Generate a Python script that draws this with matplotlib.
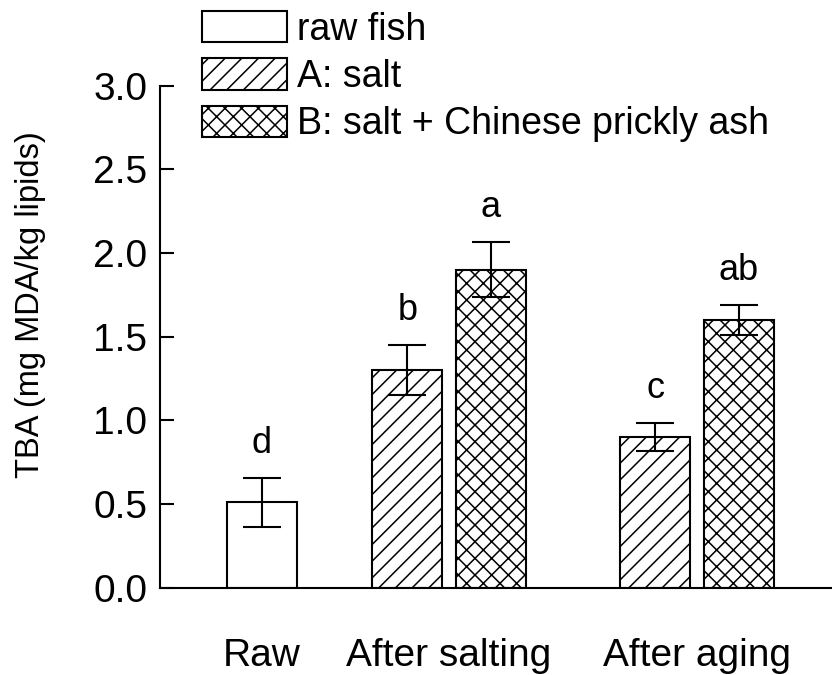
import numpy as np
import matplotlib
matplotlib.use('Agg')
import matplotlib.pyplot as plt
from matplotlib.patches import Patch

plt.rcParams['font.family'] = ['Liberation Sans', 'DejaVu Sans']
plt.rcParams['hatch.linewidth'] = 1.1

# 数据
groups = ['Raw', 'After salting', 'After aging']
series = ['raw fish', 'A: salt', 'B: salt + Chinese prickly ash']
raw_val = [0.51]
raw_err = [0.145]
a_vals = [1.30, 0.90]
a_errs = [0.15, 0.085]
b_vals = [1.90, 1.60]
b_errs = [0.165, 0.09]
raw_letters = ['d']
a_letters = ['b', 'c']
b_letters = ['a', 'ab']

group_pos = np.array([1.457, 4.13, 7.675])
offset = 0.597
width = 1.0

fig = plt.figure(figsize=(8.32, 6.75), dpi=100)
ax = fig.add_axes([160 / 832, 1 - 587.7 / 675, 672 / 832, (587.7 - 85.5) / 675])

bar_kw = dict(width=width, edgecolor='black', linewidth=1.5, facecolor='white')
err_kw = dict(fmt='none', ecolor='black', elinewidth=1.5, capsize=14, capthick=1.5)

ax.bar(group_pos[:1], raw_val, **bar_kw)
ax.bar(group_pos[1:] - offset, a_vals, hatch='//', **bar_kw)
ax.bar(group_pos[1:] + offset, b_vals, hatch='xx', **bar_kw)

ax.errorbar(group_pos[:1], raw_val, yerr=raw_err, **err_kw)
ax.errorbar(group_pos[1:] - offset, a_vals, yerr=a_errs, **err_kw)
ax.errorbar(group_pos[1:] + offset, b_vals, yerr=b_errs, **err_kw)

# 显著性字母
def put_letters(xs, vals, errs, letters):
    for x, v, e, t in zip(xs, vals, errs, letters):
        ax.text(x, v + e + 0.15, t, ha='center', va='baseline', fontsize=26)

put_letters(group_pos[:1], raw_val, raw_err, raw_letters)
put_letters(group_pos[1:] - offset, a_vals, a_errs, a_letters)
put_letters(group_pos[1:] + offset, b_vals, b_errs, b_letters)

ax.set_xlim(0, 9.6)
ax.set_ylim(0, 3.0)
ticks = np.arange(0, 3.01, 0.5)
ax.set_yticks(ticks)
ax.set_yticklabels(['%.1f' % v for v in ticks])
ax.set_xticks(group_pos)
ax.set_xticklabels(groups)
ax.tick_params(axis='y', direction='in', length=10, width=1.5, labelsize=28, pad=9)
ax.tick_params(axis='x', length=0, labelsize=28, pad=36)
ax.spines['top'].set_visible(False)
ax.spines['right'].set_visible(False)
ax.spines['left'].set_linewidth(1.5)
ax.spines['bottom'].set_linewidth(1.5)
ax.set_ylabel('TBA (mg MDA/kg lipids)', fontsize=23.5)
ax.yaxis.set_label_coords(-0.170, 0.563)

handles = [Patch(facecolor='white', edgecolor='black', linewidth=1.5, label=series[0]),
           Patch(facecolor='white', edgecolor='black', linewidth=1.5, hatch='//', label=series[1]),
           Patch(facecolor='white', edgecolor='black', linewidth=1.5, hatch='xx', label=series[2])]
fig.legend(handles=handles, loc='upper left', bbox_to_anchor=(202 / 832, 1 - 11 / 675),
           frameon=False, fontsize=27, handlelength=2.27, handleheight=0.9,
           handletextpad=0.27, labelspacing=0.29, borderaxespad=0.0, borderpad=0.0)

fig.savefig('out.png', dpi=100)
